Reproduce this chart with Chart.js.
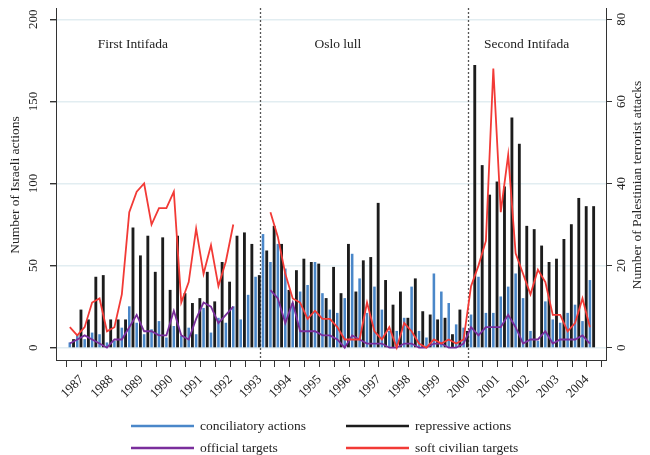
<!DOCTYPE html>
<html>
<head>
<meta charset="utf-8">
<script src="https://cdn.jsdelivr.net/npm/chart.js@4.4.1/dist/chart.umd.min.js"></script>
<style>
  html, body { margin: 0; padding: 0; background: #ffffff; }
  canvas { display: block; }
</style>
</head>
<body>
<canvas id="chart" width="650" height="455"></canvas>
<script>
// Quarterly observations
const quarters = [
  '1986Q3','1986Q4',
  '1987Q1','1987Q2','1987Q3','1987Q4','1988Q1','1988Q2','1988Q3','1988Q4',
  '1989Q1','1989Q2','1989Q3','1989Q4','1990Q1','1990Q2','1990Q3','1990Q4',
  '1991Q1','1991Q2','1991Q3','1991Q4','1992Q1','1992Q2','1992Q3','1992Q4',
  '1993Q1','1993Q2','1993Q3','1993Q4','1994Q1','1994Q2','1994Q3','1994Q4',
  '1995Q1','1995Q2','1995Q3','1995Q4','1996Q1','1996Q2','1996Q3','1996Q4',
  '1997Q1','1997Q2','1997Q3','1997Q4','1998Q1','1998Q2','1998Q3','1998Q4',
  '1999Q1','1999Q2','1999Q3','1999Q4','2000Q1','2000Q2','2000Q3','2000Q4',
  '2001Q1','2001Q2','2001Q3','2001Q4','2002Q1','2002Q2','2002Q3','2002Q4',
  '2003Q1','2003Q2','2003Q3','2003Q4','2004Q1'
];

// Israeli actions (left axis)
const conciliatory = [
  3, 8, 5, 9, 8, 3, 4, 12, 25, 15,
  8, 11, 16, 6, 13, 7, 12, 8, 24, 9,
  18, 15, 25, 17, 32, 43, 69, 52, 63, 48,
  27, 34, 38, 52, 33, 23, 21, 30, 57, 42,
  21, 37, 23, 10, 10, 18, 37, 10, 6, 45,
  34, 27, 14, 12, 20, 43, 21, 21, 31, 37,
  45, 30, 10, 4, 28, 17, 15, 21, 26, 16,
  41
];
const repressive = [
  5, 23, 17, 43, 44, 17, 17, 17, 73, 56,
  68, 46, 67, 35, 68, 33, 27, 30, 46, 28,
  52, 40, 68, 70, 63, 44, 59, 74, 63, 35,
  47, 54, 52, 51, 30, 49, 33, 63, 34, 53,
  55, 88, 41, 26, 34, 18, 42, 22, 20, 17,
  18, 8, 23, 10, 172, 111, 93, 101, 98, 140,
  124, 74, 72, 62, 52, 54, 66, 75, 91, 86,
  86
];

// Palestinian terrorist attacks (right axis); null = not recorded
const officialTargets = [
  1, 2, 3, 2, 1, 0, 2, 2, 5, 8,
  4, 4, 3, 3, 9, 3, 2, 7, 11, 10,
  6, 8, 10, null, null, null, null, 14, 12, 6,
  11, 4, 4, 4, 3, 3, 2, 0, 3, 2,
  1, 1, 1, 0, 0, 1, 1, 0, 0, 1,
  1, 0, 0, 1, 5, 3, 5, 5, 5, 8,
  5, 1, 2, 2, 4, 1, 2, 2, 2, 3,
  1
];
const softCivilian = [
  5, 3, 5, 11, 12, 4, 5, 13, 33, 38,
  40, 30, 34, 34, 38, 11, 16, 29, 18, 25,
  15, 21, 30, null, null, null, null, 33, 27, 18,
  12, 11, 7, 9, 7, 7, 5, 2, 2, 2,
  11, 4, 2, 5, 0, 6, 4, 1, 0, 2,
  1, 2, 1, 2, 15, 20, 26, 68, 33, 47,
  23, 18, 13, 19, 16, 8, 8, 4, 6, 12,
  5
];

// Period boundaries and names
const periodBreaks = [1993, 2000];
const periodNames = ['First Intifada', 'Oslo lull', 'Second Intifada'];

const leftTicks = { min: -7.5, max: 206.9, step: 50 };
const rightTicks = { min: -3, max: 82.76, step: 20 };

const SERIF = '"Liberation Serif", "Times New Roman", serif';
const INK = '#222222';

// Quarter label -> position on the year axis
function quarterPos(q) {
  const [yr, n] = q.split('Q').map(Number);
  return yr + (n - 1) / 4 + 0.1;
}
const xs = quarters.map(quarterPos);
const points = (vals, shift = 0) => vals.map((v, i) => ({ x: xs[i] + shift, y: v }));

const decorations = {
  id: 'decorations',
  beforeDatasetsDraw(chart) {
    const { ctx, chartArea, scales } = chart;
    ctx.save();
    ctx.strokeStyle = '#555555';
    ctx.lineWidth = 1.3;
    ctx.setLineDash([2, 2]);
    periodBreaks.forEach(yr => {
      const px = Math.round(scales.x.getPixelForValue(yr)) + 0.5;
      ctx.beginPath();
      ctx.moveTo(px, chartArea.top);
      ctx.lineTo(px, chartArea.bottom + 3);
      ctx.stroke();
    });
    ctx.restore();
  },
  afterDraw(chart, args, opts) {
    const { ctx, chartArea, scales } = chart;
    ctx.save();
    ctx.fillStyle = INK;
    ctx.font = '13px ' + SERIF;
    ctx.textAlign = 'center';
    ctx.textBaseline = 'middle';

    // rotated value labels on both vertical axes
    const vertical = (scale, cx) => {
      scale.ticks.forEach(t => {
        const py = scale.getPixelForValue(t.value);
        ctx.save();
        ctx.translate(cx, py);
        ctx.rotate(-Math.PI / 2);
        ctx.fillText(String(t.value), 0, 0);
        ctx.restore();
      });
    };
    vertical(scales.y, 34);
    vertical(scales.y1, 622);

    // axis titles
    const midY = (chartArea.top + chartArea.bottom) / 2 + 1;
    const title = (text, cx) => {
      ctx.save();
      ctx.translate(cx, midY);
      ctx.rotate(-Math.PI / 2);
      ctx.font = '13.5px ' + SERIF;
      ctx.fillText(text, 0, 0);
      ctx.restore();
    };
    title('Number of Israeli actions', 15);
    title('Number of Palestinian terrorist attacks', 637);

    // period names
    ctx.font = '13.5px ' + SERIF;
    opts.periodCenters.forEach((yr, i) => {
      ctx.fillText(periodNames[i], scales.x.getPixelForValue(yr), scales.y.getPixelForValue(opts.periodLevel));
    });

    // legend, two columns by two rows
    const ds = chart.data.datasets;
    const byLabel = l => ds.find(d => d.label === l);
    const entries = [
      byLabel('conciliatory actions'), byLabel('repressive actions'),
      byLabel('official targets'), byLabel('soft civilian targets')
    ];
    const cols = [131, 346];
    const rows = [426, 448];
    ctx.textAlign = 'left';
    entries.forEach((d, i) => {
      const lx = cols[i % 2];
      const ly = rows[Math.floor(i / 2)];
      ctx.strokeStyle = d.type === 'bar' ? d.backgroundColor : d.borderColor;
      ctx.lineWidth = 2.5;
      ctx.setLineDash([]);
      ctx.beginPath();
      ctx.moveTo(lx, ly);
      ctx.lineTo(lx + 63, ly);
      ctx.stroke();
      ctx.fillStyle = INK;
      ctx.fillText(d.label, lx + 69, ly);
    });
    ctx.restore();
  }
};

new Chart(document.getElementById('chart'), {
  type: 'bar',
  data: {
    datasets: [
      {
        type: 'line', label: 'soft civilian targets', yAxisID: 'y1',
        data: points(softCivilian),
        borderColor: '#f23a36', borderWidth: 1.8, pointRadius: 0,
        tension: 0, spanGaps: false, order: 0
      },
      {
        type: 'line', label: 'official targets', yAxisID: 'y1',
        data: points(officialTargets),
        borderColor: '#7a2e9c', borderWidth: 1.8, pointRadius: 0,
        tension: 0, spanGaps: false, order: 1
      },
      {
        type: 'bar', label: 'repressive actions', yAxisID: 'y',
        data: points(repressive, 0.125),
        backgroundColor: '#1c1c1c', barThickness: 2.2, grouped: false, order: 2
      },
      {
        type: 'bar', label: 'conciliatory actions', yAxisID: 'y',
        data: points(conciliatory),
        backgroundColor: '#4a87c9', barThickness: 1.9, grouped: false, order: 3
      }
    ]
  },
  options: {
    responsive: false,
    animation: false,
    devicePixelRatio: 1,
    layout: { padding: { top: 8, left: 0, right: 0, bottom: 0 } },
    plugins: {
      legend: { display: false },
      tooltip: { enabled: false },
      decorations: { periodCenters: [1988.72, 1995.62, 2001.97], periodLevel: 185 }
    },
    scales: {
      x: {
        type: 'linear', min: 1986.135, max: 2004.641, offset: false,
        afterFit: s => { s.height = 95; },
        grid: { offset: false, drawOnChartArea: false, tickLength: 7, tickColor: '#333333', tickWidth: 1 },
        border: { color: '#333333', width: 1 },
        ticks: {
          stepSize: 0.5, includeBounds: false, autoSkip: false, maxTicksLimit: 100,
          minRotation: 45, maxRotation: 45, padding: 5,
          color: INK, font: { family: SERIF, size: 13 },
          callback: v => Number.isInteger(v) ? String(v) : ''
        }
      },
      y: {
        type: 'linear', position: 'left',
        min: leftTicks.min, max: leftTicks.max,
        afterFit: s => { s.width = 56; },
        grid: { color: '#e2edf1', lineWidth: 1.4, tickColor: '#333333', tickLength: 6 },
        border: { color: '#333333', width: 1 },
        ticks: { stepSize: leftTicks.step, includeBounds: false, display: false }
      },
      y1: {
        type: 'linear', position: 'right',
        min: rightTicks.min, max: rightTicks.max,
        afterFit: s => { s.width = 44; },
        grid: { drawOnChartArea: false, tickColor: '#333333', tickLength: 6 },
        border: { color: '#333333', width: 1 },
        ticks: { stepSize: rightTicks.step, includeBounds: false, display: false }
      }
    }
  },
  plugins: [decorations]
});
</script>
</body>
</html>
